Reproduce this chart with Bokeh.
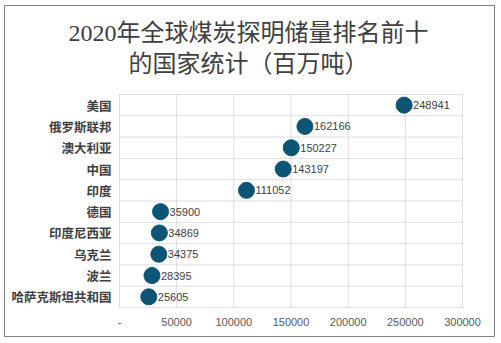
from bokeh.plotting import figure
from bokeh.models import ColumnDataSource, Range1d
from bokeh.core.properties import value
from bokeh.embed import file_html
from bokeh.resources import INLINE

countries = ["美国", "俄罗斯联邦", "澳大利亚", "中国", "印度",
             "德国", "印度尼西亚", "乌克兰", "波兰", "哈萨克斯坦共和国"]
reserves = [248941, 162166, 150227, 143197, 111052,
            35900, 34869, 34375, 28395, 25605]
x_ticks = [0, 50000, 100000, 150000, 200000, 250000, 300000]
x_tick_labels = ["-", "50000", "100000", "150000", "200000", "250000", "300000"]
title_lines = ["2020年全球煤炭探明储量排名前十", "的国家统计（百万吨）"]

n = len(countries)
XMAX = 300000
W, H = 501, 343
# outer chart box (canvas px) and inner plot area (canvas px)
BL, BR, BT, BB = 4, 494, 5, 336
PL, PR, PT, PB = 119, 462, 94, 307
kx = XMAX / (PR - PL)
ky = n / (PB - PT)


def dx(cx):
    return (cx - PL) * kx


def dy(cy):
    return (PB - cy) * ky


p = figure(width=W, height=H, output_backend="svg", toolbar_location=None,
           x_range=Range1d(dx(BL), dx(BR)), y_range=Range1d(dy(BB), dy(BT)),
           min_border_left=BL, min_border_right=W - BR,
           min_border_top=BT, min_border_bottom=H - BB)
p.xaxis.visible = False
p.yaxis.visible = False
p.grid.visible = False
p.outline_line_color = "#7f7f7f"
p.outline_line_width = 1
p.background_fill_color = "white"
p.border_fill_color = "white"

grid_color = "#bcbcc8"
# vertical grid lines
p.segment(x0=x_ticks, y0=[0] * len(x_ticks), x1=x_ticks, y1=[n] * len(x_ticks),
          line_color=grid_color, line_width=1, line_dash="1 1")
# horizontal row boundaries
rows = list(range(n + 1))
p.segment(x0=[0] * len(rows), y0=rows, x1=[XMAX] * len(rows), y1=rows,
          line_color=grid_color, line_width=1, line_dash="1 1")

ypos = [n - i - 0.5 for i in range(n)]
src = ColumnDataSource(dict(x=reserves, y=ypos, label=[str(v) for v in reserves],
                            country=countries))

p.scatter("x", "y", source=src, size=16, color="#0d5574")
p.text("x", "y", text="label", source=src, x_offset=9, text_baseline="middle",
       text_font_size="11px", text_color="#404040",
       text_font=value("Liberation Sans"))

# category labels
p.text(x=[dx(111)] * n, y=ypos, text=countries, text_align="right",
       text_baseline="middle", text_font_size="12.5px", text_font_style="bold",
       text_color="#404040", text_font=value("Noto Sans CJK SC"))

# x tick labels
p.text(x=x_ticks, y=[dy(321)] * len(x_ticks), text=x_tick_labels,
       text_align="center", text_baseline="middle", text_font_size="11px",
       text_color="#595959", text_font=value("Liberation Sans"))

# title
p.text(x=[dx(248)] * len(title_lines), y=[dy(32), dy(63)], text=title_lines,
       text_align="center", text_baseline="middle", text_font_size="24px",
       text_color="#404040",
       text_font=value("'Liberation Serif', 'Noto Sans CJK SC'"))

open("out.html", "w").write(file_html(p, INLINE))
